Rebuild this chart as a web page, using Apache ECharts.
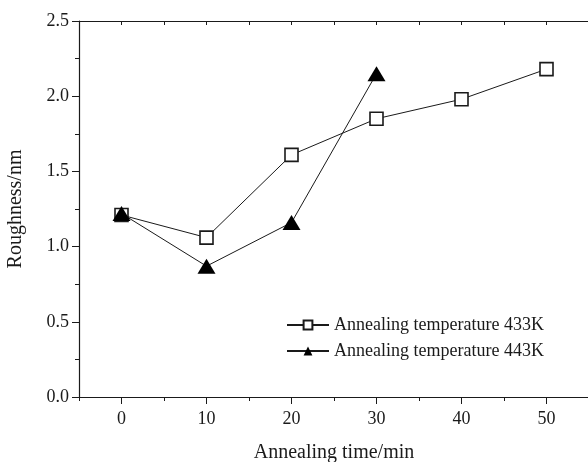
<!DOCTYPE html>
<html>
<head>
<meta charset="utf-8">
<script src="https://cdn.jsdelivr.net/npm/echarts@6/dist/echarts.min.js"></script>
<style>
html,body{margin:0;padding:0;background:#fff;}
#chart{width:588px;height:462px;}
</style>
</head>
<body>
<div id="chart"></div>
<script>
// Annealing time (min) and surface roughness (nm) for two temperatures
const timesMin = [0, 10, 20, 30, 40, 50];
const rough433K = [1.21, 1.06, 1.61, 1.85, 1.98, 2.18];
const rough443K = [1.22, 0.87, 1.16, 2.15];
const xTicks = [0, 10, 20, 30, 40, 50];
const yTicks = [0.0, 0.5, 1.0, 1.5, 2.0, 2.5];

const FONT = 'Liberation Serif';
const INK = '#1a1a1a';

const pairs = (xs, ys) => ys.map((y, i) => [xs[i], y]);

const chart = echarts.init(document.getElementById('chart'), null, { renderer: 'canvas' });
chart.setOption({
  animation: false,
  backgroundColor: '#fff',
  textStyle: { fontFamily: FONT, color: INK },
  grid: {
    left: 79, top: 21, width: 510, height: 376,
    containLabel: false,
    outerBoundsMode: 'none'
  },
  legend: {
    orient: 'vertical',
    left: 281,
    top: 311,
    itemWidth: 42,
    itemHeight: 11,
    itemGap: 8,
    textStyle: { fontFamily: FONT, fontSize: 18, color: INK },
    data: ['Annealing temperature 433K', 'Annealing temperature 443K']
  },
  xAxis: [{
    type: 'value',
    min: -5, max: 55, interval: 5,
    name: 'Annealing time/min',
    nameLocation: 'middle',
    nameGap: 46,
    nameTextStyle: { fontFamily: FONT, fontSize: 20, color: INK },
    axisLine: { onZero: false, lineStyle: { color: INK, width: 1.2 } },
    axisTick: {
      show: true, inside: false, length: 7,
      lineStyle: { color: INK },
      customValues: xTicks
    },
    axisLabel: {
      fontFamily: FONT, fontSize: 18, color: INK, margin: 13,
      customValues: xTicks,
      formatter: v => String(v)
    },
    splitLine: { show: false }
  }, {
    type: 'value',
    position: 'top',
    min: -5, max: 55, interval: 5,
    axisLine: { show: true, onZero: false, lineStyle: { color: INK, width: 1.2 } },
    axisTick: { show: true, inside: true, length: 4, lineStyle: { color: INK } },
    axisLabel: { show: false },
    splitLine: { show: false }
  }, {
    // short ticks at the half-decade positions below the axis
    type: 'value',
    position: 'bottom',
    min: -5, max: 55, interval: 10,
    axisLine: { show: false, onZero: false },
    axisTick: { show: true, inside: false, length: 4, lineStyle: { color: INK } },
    axisLabel: { show: false },
    splitLine: { show: false }
  }],
  yAxis: [{
    type: 'value',
    min: 0, max: 2.5, interval: 0.25,
    name: 'Roughness/nm',
    nameLocation: 'middle',
    nameGap: 53,
    nameRotate: 90,
    nameTextStyle: { fontFamily: FONT, fontSize: 20, color: INK },
    axisLine: { show: true, onZero: false, lineStyle: { color: INK, width: 1.2 } },
    axisTick: {
      show: true, inside: false, length: 4,
      lineStyle: { color: INK }
    },
    axisLabel: {
      fontFamily: FONT, fontSize: 18, color: INK, margin: 10,
      customValues: yTicks,
      formatter: v => v.toFixed(1)
    },
    splitLine: { show: false }
  }, {
    type: 'value',
    position: 'left',
    min: 0, max: 2.5, interval: 0.5,
    axisLine: { show: false, onZero: false },
    axisTick: { show: true, inside: false, length: 7, lineStyle: { color: INK } },
    axisLabel: { show: false },
    splitLine: { show: false }
  }],
  series: [{
    name: 'Annealing temperature 433K',
    type: 'line',
    data: pairs(timesMin, rough433K),
    symbol: 'rect',
    symbolSize: 13,
    z: 3,
    lineStyle: { color: INK, width: 1 },
    itemStyle: { color: '#fff', borderColor: INK, borderWidth: 1.6 }
  }, {
    name: 'Annealing temperature 443K',
    type: 'line',
    data: pairs(timesMin, rough443K),
    symbol: 'triangle',
    symbolSize: [18, 15],
    z: 4,
    lineStyle: { color: INK, width: 1 },
    itemStyle: { color: '#000', borderColor: '#000', borderWidth: 0 }
  }]
});
</script>
</body>
</html>
